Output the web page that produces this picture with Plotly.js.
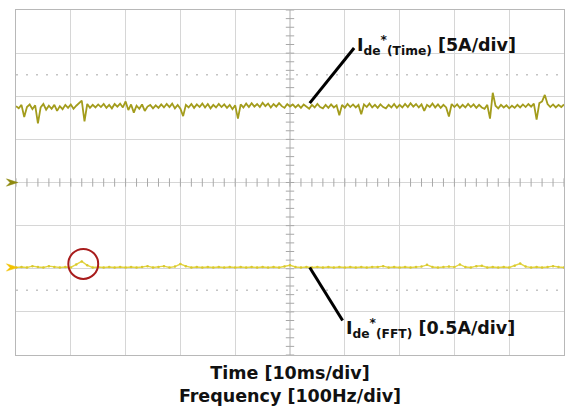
<!DOCTYPE html>
<html>
<head>
<meta charset="utf-8">
<script src="https://cdn.plot.ly/plotly-3.0.1.min.js"></script>
<style>html,body{margin:0;padding:0;background:#fff;}#chart{width:565px;height:408px;}</style>
</head>
<body>
<div id="chart"></div>
<script>
// ---- data (values in scope divisions) ----
const timeTraceValues = [
1.77,1.72,1.80,1.52,1.75,1.81,1.70,1.79,1.37,1.74,
1.82,1.69,1.78,1.71,1.80,1.66,1.77,1.70,1.80,1.73,
1.81,1.71,1.78,1.84,1.90,1.42,1.82,1.73,1.80,1.74,
1.81,1.75,1.82,1.73,1.80,1.72,1.82,1.76,1.83,1.74,
1.88,1.68,1.81,1.62,1.78,1.71,1.81,1.66,1.76,1.80,
1.72,1.79,1.73,1.81,1.74,1.82,1.75,1.83,1.72,1.80,
1.71,1.54,1.80,1.74,1.82,1.73,1.81,1.75,1.83,1.74,
1.82,1.72,1.80,1.74,1.82,1.75,1.81,1.73,1.80,1.70,
1.79,1.48,1.81,1.74,1.83,1.75,1.84,1.76,1.82,1.75,
1.85,1.77,1.83,1.74,1.82,1.76,1.84,1.77,1.73,1.82,
1.76,1.81,1.74,1.80,1.73,1.81,1.75,1.71,1.80,1.74,
1.82,1.75,1.72,1.80,1.73,1.81,1.74,1.79,1.56,1.80,
1.73,1.82,1.75,1.81,1.74,1.80,1.58,1.81,1.75,1.83,
1.74,1.80,1.73,1.81,1.75,1.72,1.80,1.74,1.82,1.73,
1.80,1.74,1.82,1.75,1.84,1.76,1.82,1.74,1.81,1.66,
1.80,1.75,1.83,1.74,1.81,1.73,1.80,1.74,1.53,1.82,
1.75,1.81,1.73,1.80,1.74,1.82,1.75,1.81,1.73,1.80,
1.74,1.71,1.80,1.48,2.08,1.78,1.72,1.80,1.74,1.79,
1.72,1.78,1.73,1.80,1.74,1.81,1.75,1.82,1.76,1.83,
1.46,1.84,1.88,2.03,1.82,1.75,1.81,1.74,1.80,1.75,
1.81
];
const fftTraceValues = [
-1.97,-1.96,-1.97,-1.94,-1.96,-1.97,-1.94,-1.96,-1.97,-1.96,
-1.97,-1.90,-1.83,-1.92,-1.97,-1.96,-1.97,-1.96,-1.97,-1.96,
-1.97,-1.96,-1.97,-1.96,-1.94,-1.97,-1.96,-1.94,-1.97,-1.95,
-1.89,-1.94,-1.97,-1.96,-1.97,-1.96,-1.97,-1.96,-1.97,-1.96,
-1.97,-1.96,-1.97,-1.96,-1.97,-1.96,-1.97,-1.96,-1.97,-1.95,
-1.92,-1.96,-1.97,-1.96,-1.97,-1.96,-1.97,-1.96,-1.97,-1.96,
-1.97,-1.96,-1.97,-1.96,-1.97,-1.96,-1.96,-1.94,-1.97,-1.96,
-1.97,-1.96,-1.97,-1.96,-1.95,-1.91,-1.96,-1.97,-1.96,-1.95,
-1.96,-1.90,-1.96,-1.97,-1.94,-1.93,-1.97,-1.96,-1.97,-1.96,
-1.97,-1.93,-1.88,-1.95,-1.97,-1.96,-1.97,-1.96,-1.94,-1.96,
-1.97
];
const channelOffsets = [0, -1.97];
const channelColors = ['#8f8a10', '#f2c200'];
const timeLabel = 'I<sub>de</sub><sup>*</sup><sub>(Time)</sub> [5A/div]';
const fftLabel = 'I<sub>de</sub><sup>*</sup><sub>(FFT)</sub> [0.5A/div]';
const xTitleLines = ['Time [10ms/div]', 'Frequency [100Hz/div]'];
const xDivisions = 10;

// sample positions across the 10 horizontal divisions
const timeX = timeTraceValues.map((v, i) => i * xDivisions / (timeTraceValues.length - 1));
const fftX = fftTraceValues.map((v, i) => i * xDivisions / (fftTraceValues.length - 1));

// centre-line graticule ticks
const tickXs = [], tickYs = [];
for (let k = 0; k <= 50; k++) tickXs.push(k * 0.2);
for (let k = 0; k <= 40; k++) tickYs.push(-4 + k * 0.2);

const FONT = 'DejaVu Sans, Noto Sans, sans-serif';
const gridGrey = '#d6d6d6';
const traces = [
  {x: tickXs, y: tickXs.map(() => 0), mode: 'markers', type: 'scatter', hoverinfo: 'skip',
   marker: {symbol: 'line-ns', size: 6, line: {color: '#a8a8a8', width: 1}}},
  {x: tickYs.map(() => 5), y: tickYs, mode: 'markers', type: 'scatter', hoverinfo: 'skip',
   marker: {symbol: 'line-ew', size: 6, line: {color: '#a8a8a8', width: 1}}},
  {x: timeX, y: timeTraceValues, mode: 'lines', type: 'scatter',
   line: {color: '#a39c1c', width: 1.8}},
  {x: fftX, y: fftTraceValues, mode: 'lines+markers', type: 'scatter',
   line: {color: '#e4d640', width: 1.4}, marker: {color: '#d8c830', size: 2.5}}
];

// channel offset indicators (chevrons just left of the graticule)
const markerShapes = channelOffsets.map((off, i) => ({
  type: 'path', xref: 'paper', yref: 'y',
  path: `M -0.0175 ${off + 0.085} L 0.0035 ${off} L -0.0175 ${off - 0.085} L -0.011 ${off} Z`,
  fillcolor: channelColors[i], line: {color: channelColors[i], width: 0.5}
}));

const layout = {
  width: 565, height: 408,
  margin: {l: 16, r: 1, t: 10, b: 53},
  paper_bgcolor: '#fff', plot_bgcolor: '#fff',
  showlegend: false,
  font: {family: FONT, color: '#111'},
  xaxis: {range: [0, 10], dtick: 1, tick0: 0, showgrid: true, gridcolor: gridGrey, gridwidth: 1,
    zeroline: false, showticklabels: false, ticks: '', showline: true, linecolor: '#b8b8b8', mirror: true,
    fixedrange: true,
    title: {text: '<b>' + xTitleLines.join('</b><br><b>') + '</b>', font: {family: FONT, size: 17.5, color: '#111'}, standoff: 11}},
  yaxis: {range: [-4, 4], dtick: 1, tick0: 0, showgrid: true, gridcolor: gridGrey, gridwidth: 1,
    zeroline: false, showticklabels: false, ticks: '', showline: true, linecolor: '#b8b8b8', mirror: true,
    fixedrange: true},
  shapes: [
    {type: 'line', xref: 'x', yref: 'y', x0: 5, x1: 5, y0: -4, y1: 4, line: {color: '#b0b0b0', width: 1}, layer: 'below'},
    {type: 'line', xref: 'x', yref: 'y', x0: 0, x1: 10, y0: 0, y1: 0, line: {color: '#b0b0b0', width: 1}, layer: 'below'},
    {type: 'line', xref: 'x', yref: 'y', x0: 0, x1: 10, y0: 2.5, y1: 2.5, line: {color: '#c4c4c4', width: 1.5, dash: '2px,8px'}, layer: 'below'},
    {type: 'line', xref: 'x', yref: 'y', x0: 0, x1: 10, y0: -2.5, y1: -2.5, line: {color: '#c4c4c4', width: 1.5, dash: '2px,8px'}, layer: 'below'},
    {type: 'circle', xref: 'x', yref: 'y', x0: 0.955, x1: 1.50, y0: -2.235, y1: -1.54, line: {color: '#a81c1c', width: 2}},
    {type: 'line', xref: 'x', yref: 'y', x0: 5.36, x1: 6.17, y0: 1.84, y1: 3.12, line: {color: '#000', width: 3}},
    {type: 'line', xref: 'x', yref: 'y', x0: 5.36, x1: 5.96, y0: -1.97, y1: -3.2, line: {color: '#000', width: 3}}
  ].concat(markerShapes),
  annotations: [
    {xref: 'x', yref: 'y', x: 6.18, y: 3.18, xanchor: 'left', yanchor: 'middle', showarrow: false,
     text: '<b>' + timeLabel + '</b>', font: {family: FONT, size: 17.5, color: '#111'}},
    {xref: 'x', yref: 'y', x: 5.98, y: -3.38, xanchor: 'left', yanchor: 'middle', showarrow: false,
     text: '<b>' + fftLabel + '</b>', font: {family: FONT, size: 17.5, color: '#111'}}
  ]
};

Plotly.newPlot('chart', traces, layout, {displayModeBar: false, staticPlot: true});
</script>
</body>
</html>
